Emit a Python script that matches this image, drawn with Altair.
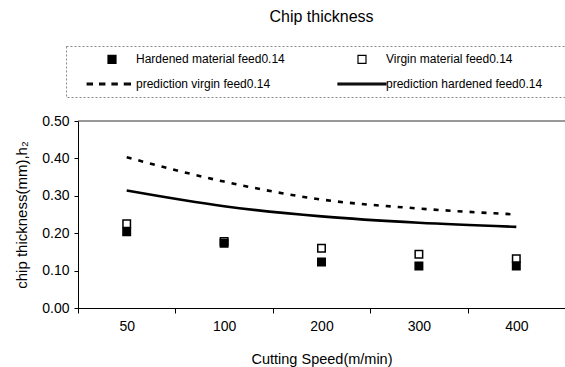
import altair as alt
import pandas as pd

speeds = ["50", "100", "200", "300", "400"]
hardened = [0.204, 0.173, 0.123, 0.112, 0.112]
virgin = [0.225, 0.178, 0.160, 0.144, 0.132]
pred_virgin = [0.403, 0.338, 0.290, 0.266, 0.250]
pred_hardened = [0.314, 0.272, 0.245, 0.228, 0.217]

series_names = [
    "Hardened material feed0.14",
    "Virgin material feed0.14",
    "prediction virgin feed0.14",
    "prediction hardened feed0.14",
]

FONT = "Liberation Sans"
NB = "\u00a0"

pts = pd.DataFrame(
    {"speed": speeds + speeds,
     "value": virgin + hardened,
     "series": [series_names[1]] * 5 + [series_names[0]] * 5}
)
pv = pd.DataFrame({"speed": speeds, "value": pred_virgin})
ph = pd.DataFrame({"speed": speeds, "value": pred_hardened})

DASH = ("M-6.2,-0.2H-4.9V0.2H-6.2Z M-3.1,-0.2H-1.8V0.2H-3.1Z "
        "M0,-0.2H1.3V0.2H0Z M3.1,-0.2H4.6V0.2H3.1Z")
LINE = "M-6,-0.2H6V0.2H-6Z"

x_enc = alt.X(
    "speed:N",
    sort=speeds,
    scale=alt.Scale(type="band", paddingInner=0, paddingOuter=0),
    axis=alt.Axis(
        title="Cutting Speed(m/min)",
        labelAngle=0,
        tickBand="extent",
        tickSize=5,
        labelPadding=6,
        titlePadding=19,
        labelFontSize=14,
        titleFontSize=14.5,
    ),
)
y_scale = alt.Scale(domain=[0, 0.5], nice=False, zero=True)
y_axis = alt.Axis(
    title="chip thickness(mm),h₂",
    values=[0, 0.1, 0.2, 0.3, 0.4, 0.5],
    format=".2f",
    tickSize=4,
    labelPadding=5,
    titlePadding=12,
    labelFontSize=14,
    titleFontSize=15,
    labelOverlap=False,
    labelFlush=False,
)
y_enc = alt.Y("value:Q", scale=y_scale, axis=y_axis)

col2_test = f"(datum.label == '{series_names[1]}' || datum.label == '{series_names[3]}')"
label_expr = f"{col2_test} ? '{NB * 4}' + datum.label : datum.label"


def make_legend():
    return alt.Legend(
        title="\u200b",
        titleOrient="right",
        titlePadding=45,
        titleFontSize=12,
        orient="none",
        legendX=-12,
        legendY=-75,
        columns=2,
        direction="horizontal",
        symbolSize=64,
        symbolStrokeWidth=1.2,
        symbolOffset=33,
        labelOffset=18,
        labelFontSize=12,
        labelFont=FONT,
        labelColor="black",
        labelLimit=600,
        columnPadding=38,
        rowPadding=12,
        padding=7,
        strokeColor="#888",
        labelExpr=label_expr,
    )


top_border = alt.Chart(pd.DataFrame({"value": [0.5]})).mark_rule(
    color="#333", strokeWidth=1
).encode(y=y_enc)

line_v = alt.Chart(pv).mark_line(
    color="black", strokeWidth=2.6, strokeDash=[5, 7], interpolate="monotone"
).encode(x=x_enc, y=y_enc)

line_h = alt.Chart(ph).mark_line(
    color="black", strokeWidth=2.6, interpolate="monotone"
).encode(x=x_enc, y=y_enc)

points = alt.Chart(pts).mark_point(
    strokeWidth=1.5, size=56, opacity=1
).encode(
    x=x_enc,
    y=y_enc,
    shape=alt.Shape(
        "series:N",
        scale=alt.Scale(domain=series_names,
                        range=["square", "square", DASH, LINE]),
        legend=make_legend(),
    ),
    fill=alt.Fill(
        "series:N",
        scale=alt.Scale(domain=series_names,
                        range=["black", "white", "black", "black"]),
        legend=make_legend(),
    ),
    stroke=alt.Stroke(
        "series:N",
        scale=alt.Scale(domain=series_names,
                        range=["black", "black", "black", "black"]),
        legend=make_legend(),
    ),
)

chart = alt.layer(top_border, line_v, line_h, points).properties(
    width=487,
    height=187,
    autosize=alt.AutoSizeParams(type="none"),
    padding={"left": 78, "top": 121, "right": 0, "bottom": 59},
    title=alt.TitleParams(
        "Chip thickness", fontSize=16, font=FONT, fontWeight="normal",
        color="black", anchor="middle", offset=21,
    ),
).configure_view(stroke=None).configure_axis(
    labelFont=FONT, titleFont=FONT, labelColor="black", titleColor="black",
    titleFontWeight="normal", domainColor="black", tickColor="black", grid=False,
).configure_legend(
    strokeDash=[2, 2],
)

chart.save("out.html", embed_options={"renderer": "svg", "actions": False})
